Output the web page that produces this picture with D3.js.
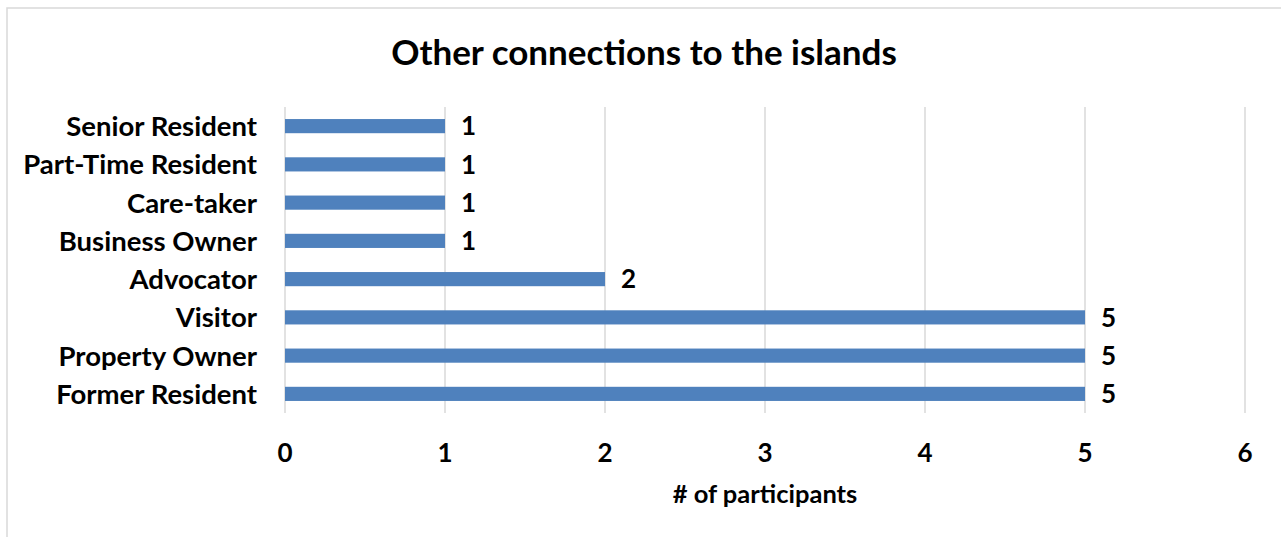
<!DOCTYPE html>
<html><head><meta charset="utf-8">
<script src="https://cdn.jsdelivr.net/npm/d3@7"></script>
<style>
html,body{margin:0;padding:0;background:#fff;}
svg{display:block;font-family:Lato, "Open Sans", sans-serif;}
</style></head>
<body>
<svg id="chart" width="1281" height="537"></svg>
<script>
const categories = ["Senior Resident","Part-Time Resident","Care-taker","Business Owner","Advocator","Visitor","Property Owner","Former Resident"];
const values = [1,1,1,1,2,5,5,5];
const tickValues = [0,1,2,3,4,5,6];
const title = "Other connections to the islands";
const xTitle = "# of participants";

(function(){
const svg = d3.select("#chart");
svg.append("rect").attr("x",7).attr("y",8).attr("width",1290).attr("height",540)
  .attr("fill","#fff").attr("stroke","#d9d9d9").attr("stroke-width",1.5);

const pL = 285, pR = 1245, pT = 107, pB = 413;
const x = d3.scaleLinear().domain([0,6]).range([pL,pR]);
const y = d3.scaleBand().domain(categories).range([pT,pB]).paddingInner(0.63).paddingOuter(0.315);

svg.append("g").selectAll("line").data(tickValues).join("line")
  .attr("x1",d=>x(d)).attr("x2",d=>x(d)).attr("y1",pT).attr("y2",pB)
  .attr("stroke","#d9d9d9").attr("stroke-width",1.5);

svg.append("g").selectAll("rect").data(values).join("rect")
  .attr("x",x(0)).attr("y",(d,i)=>y(categories[i]))
  .attr("width",d=>x(d)-x(0)).attr("height",y.bandwidth())
  .attr("fill","#4f81bd");

svg.append("g").selectAll("text").data(values).join("text")
  .attr("x",d=>x(d)+16).attr("y",(d,i)=>y(categories[i])+y.bandwidth()/2)
  .attr("dy","0.36em").attr("font-size",26).attr("font-weight",700).attr("fill","#000")
  .text(d=>d);

svg.append("g").selectAll("text").data(categories).join("text")
  .attr("x",257).attr("y",d=>y(d)+y.bandwidth()/2).attr("dy","0.36em")
  .attr("text-anchor","end").attr("font-size",27.5).attr("font-weight",700).text(d=>d);

svg.append("g").selectAll("text").data(tickValues).join("text")
  .attr("x",d=>x(d)).attr("y",453).attr("dy","0.36em").attr("text-anchor","middle")
  .attr("font-size",26).attr("font-weight",700).text(d=>d);

svg.append("text").attr("x",765).attr("y",494).attr("dy","0.36em").attr("text-anchor","middle")
  .attr("font-size",25.5).attr("font-weight",700).text(xTitle);

svg.append("text").attr("x",644).attr("y",52).attr("dy","0.36em").attr("text-anchor","middle")
  .attr("font-size",35).attr("font-weight",700).text(title);
})();
</script>
</body></html>
